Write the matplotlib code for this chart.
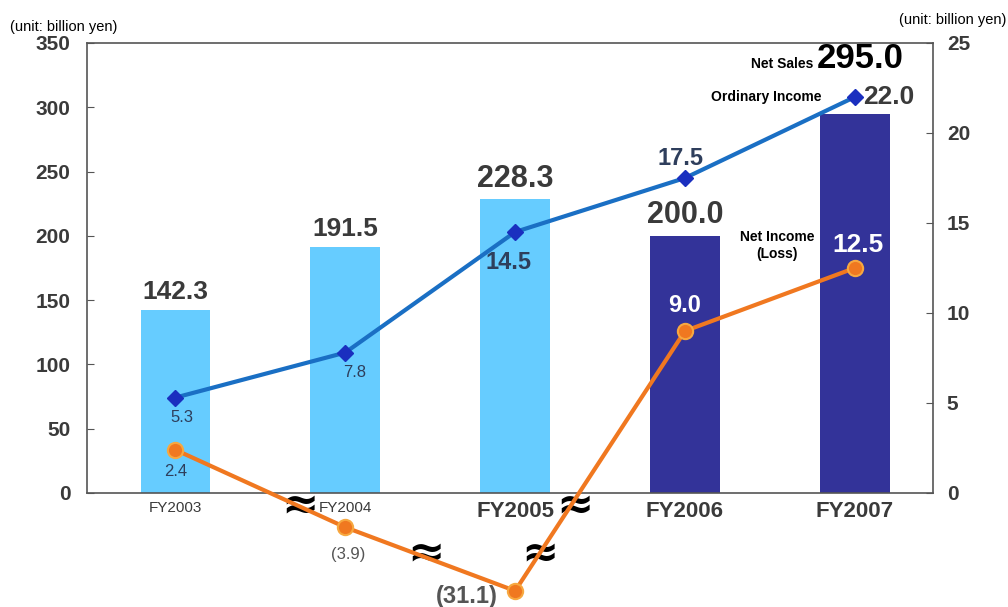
import numpy as np
import matplotlib
matplotlib.use("Agg")
import matplotlib.pyplot as plt

years = ["FY2003", "FY2004", "FY2005", "FY2006", "FY2007"]
net_sales = [142.3, 191.5, 228.3, 200.0, 295.0]
ordinary_income = [5.3, 7.8, 14.5, 17.5, 22.0]
net_income = [2.4, -3.9, -31.1, 9.0, 12.5]
net_income_labels = ["2.4", "(3.9)", "(31.1)", "9.0", "12.5"]
left_ticks = [0, 50, 100, 150, 200, 250, 300, 350]
right_ticks = [0, 5, 10, 15, 20, 25]

plt.rcParams['font.family'] = ["Liberation Sans", "DejaVu Sans"]

LIGHT = "#66CCFF"
DARK = "#333399"
OI_LINE = "#1A6FC4"
OI_MARK = "#1A2FBF"
NI_LINE = "#F07820"
GRAY = "#3A3A3A"

fig = plt.figure(figsize=(10.08, 6.07), dpi=100)
ax = fig.add_axes([87/1008, 1-493/607, 846/1008, 450/607])
x = np.arange(len(years))
colors = [LIGHT, LIGHT, LIGHT, DARK, DARK]
ax.bar(x, net_sales, width=0.41, color=colors, zorder=1)
ax.set_xlim(-0.52, 4.46)
ax.set_ylim(0, 350)
ax.set_yticks(left_ticks)
ax.set_yticklabels([str(t) for t in left_ticks], fontsize=15, fontweight='bold', color=GRAY)
ax.tick_params(axis='y', direction='in', length=5, pad=12, colors="#555555", labelcolor=GRAY)
ax.tick_params(axis='x', length=0, pad=6)
ax.set_xticks(x)
ax.set_xticklabels(years, color=GRAY)
for i, t in enumerate(ax.get_xticklabels()):
    if i < 2:
        t.set_fontsize(11)
    else:
        t.set_fontsize(16)
        t.set_fontweight('bold')
for s in ax.spines.values():
    s.set_color("#555555")
    s.set_linewidth(1.2)

# right axis with compressed negative region
a_, b_ = 2.18, 2.8
def fwd(y):
    y = np.asarray(y, dtype=float)
    return np.where(y >= 0, y, -a_ * np.log1p(-np.minimum(y, 0) / b_))
def inv(f):
    f = np.asarray(f, dtype=float)
    return np.where(f >= 0, f, -b_ * np.expm1(-np.minimum(f, 0) / a_))

ax2 = ax.twinx()
ax2.set_yscale('function', functions=(fwd, inv))
ax2.set_ylim(0, 25)
ax2.set_yticks(right_ticks)
ax2.set_yticklabels([str(t) for t in right_ticks], fontsize=15, fontweight='bold', color=GRAY)
ax2.tick_params(axis='y', direction='in', length=5, pad=10, colors="#555555", labelcolor=GRAY)
ax2.yaxis.set_minor_locator(matplotlib.ticker.NullLocator())
for s in ax2.spines.values():
    s.set_visible(False)

ax2.plot(x, ordinary_income, color=OI_LINE, lw=3, zorder=3,
         marker='D', ms=8, mfc=OI_MARK, mec=OI_MARK)
ax2.plot(x, net_income, color=NI_LINE, lw=3, zorder=3, clip_on=False,
         marker='o', ms=11, mfc=NI_LINE, mec="#F7A840", mew=1.5)

# bar labels
bar_fs = [19, 19, 22, 22]
for i in range(4):
    ax.annotate(f"{net_sales[i]:.1f}", (x[i], net_sales[i]), xytext=(0, 4),
                textcoords='offset points', ha='center', va='bottom',
                fontsize=bar_fs[i], fontweight='bold', color=GRAY)
ax.annotate(f"{net_sales[4]:.1f}", (x[4], net_sales[4]), xytext=(4, 28),
            textcoords='offset points', ha='center', va='bottom',
            fontsize=25, fontweight='bold', color='black')
ax.annotate("Net Sales", (x[4], net_sales[4]), xytext=(-30, 31),
            textcoords='offset points', ha='right', va='bottom',
            fontsize=10, fontweight='bold', color='black')

# ordinary income labels
oi_off = [(5, -9), (7, -9), (-5, -14), (-3, 6), (6, 0)]
oi_fs = [12, 12, 17, 17, 19]
oi_va = ['top', 'top', 'top', 'bottom', 'center']
oi_ha = ['center', 'center', 'center', 'center', 'left']
for i in range(5):
    ax2.annotate(f"{ordinary_income[i]:.1f}", (x[i], ordinary_income[i]), xytext=oi_off[i],
                 textcoords='offset points', ha=oi_ha[i], va=oi_va[i],
                 fontsize=oi_fs[i], fontweight='bold' if i >= 2 else 'normal',
                 color="#2E3E5C" if i < 4 else GRAY)
ax2.annotate("Ordinary Income", (x[4], ordinary_income[4]), xytext=(-24, 0),
             textcoords='offset points', ha='right', va='center',
             fontsize=10, fontweight='bold', color='black')

# net income labels
ni_off = [(0, -10), (2, -14), (-35, -4), (0, 10), (2, 8)]
ni_fs = [12, 12, 17, 17, 19]
ni_va = ['top', 'top', 'center', 'bottom', 'bottom']
ni_col = ["#2E3E5C", "#555555", "#555555", "white", "white"]
for i in range(5):
    ax2.annotate(net_income_labels[i], (x[i], net_income[i]), xytext=ni_off[i],
                 textcoords='offset points', ha='center', va=ni_va[i],
                 fontsize=ni_fs[i], fontweight='bold' if i >= 2 else 'normal',
                 color=ni_col[i], annotation_clip=False)
ax2.annotate("Net Income\n(Loss)", (x[4], net_income[4]), xytext=(-56, 16),
             textcoords='offset points', ha='center', va='center',
             fontsize=10, fontweight='bold', color='black', linespacing=1.3)

# axis break marks
for xf, yf in [(0.252, -0.027), (0.400, -0.133), (0.535, -0.133), (0.577, -0.027)]:
    ax.text(xf, yf, "\u2248", transform=ax.transAxes, ha='center', va='center',
            fontsize=32, fontweight='bold', color='black', zorder=5,
            family=['DejaVu Sans'])

fig.text(10/1008, 1-27/607, "(unit: billion yen)", fontsize=10.5, ha='left', va='center', color='black')
fig.text(1006/1008, 1-20/607, "(unit: billion yen)", fontsize=10.5, ha='right', va='center', color='black')

fig.savefig("out.png", dpi=100)
